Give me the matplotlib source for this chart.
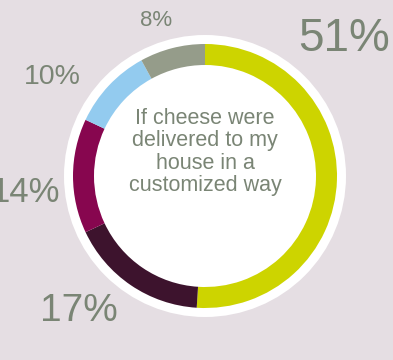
import matplotlib

matplotlib.use("Agg")
import matplotlib.pyplot as plt
from matplotlib.patches import Circle

# Share of answers, clockwise from 12 o'clock
shares = [51, 17, 14, 10, 8]
share_labels = ["51%", "17%", "14%", "10%", "8%"]
colors = ["#cdd400", "#3d132d", "#87064f", "#93cbef", "#959c8a"]
question = "If cheese were\ndelivered to my\nhouse in a\ncustomized way"

# label placement (pixel coords, y from top) and sizes in pt
label_pos = [(344, 39), (79, 311), (25, 193), (52, 77), (156, 20)]
label_size = [33, 28, 25, 20.5, 16]

BG = "#e5dee3"
TEXT = "#7a8575"
W, H = 393, 360
cx, cy = 205, H - 176

fig = plt.figure(figsize=(W / 100, H / 100), dpi=100, facecolor=BG)
ax = fig.add_axes([0, 0, 1, 1])
ax.set_xlim(0, W)
ax.set_ylim(0, H)
ax.set_aspect("equal")
ax.axis("off")

# white disc behind the ring
ax.add_patch(Circle((cx, cy), 141, facecolor="white", edgecolor="none", zorder=0))

ax.pie(
    shares,
    colors=colors,
    startangle=90,
    counterclock=False,
    radius=132,
    center=(cx, cy),
    frame=True,
    wedgeprops=dict(width=21, linewidth=0),
)
ax.set_xlim(0, W)
ax.set_ylim(0, H)
ax.axis("off")

for text, (x, y), size in zip(share_labels, label_pos, label_size):
    ax.text(x, H - y, text, fontsize=size, color=TEXT, ha="center",
            va="center", family="Liberation Sans")

ax.text(cx, H - 152, question, fontsize=15.5, color=TEXT, ha="center",
        va="center", linespacing=1.08, family="Liberation Sans")

fig.savefig("out.png", dpi=100, facecolor=BG)
